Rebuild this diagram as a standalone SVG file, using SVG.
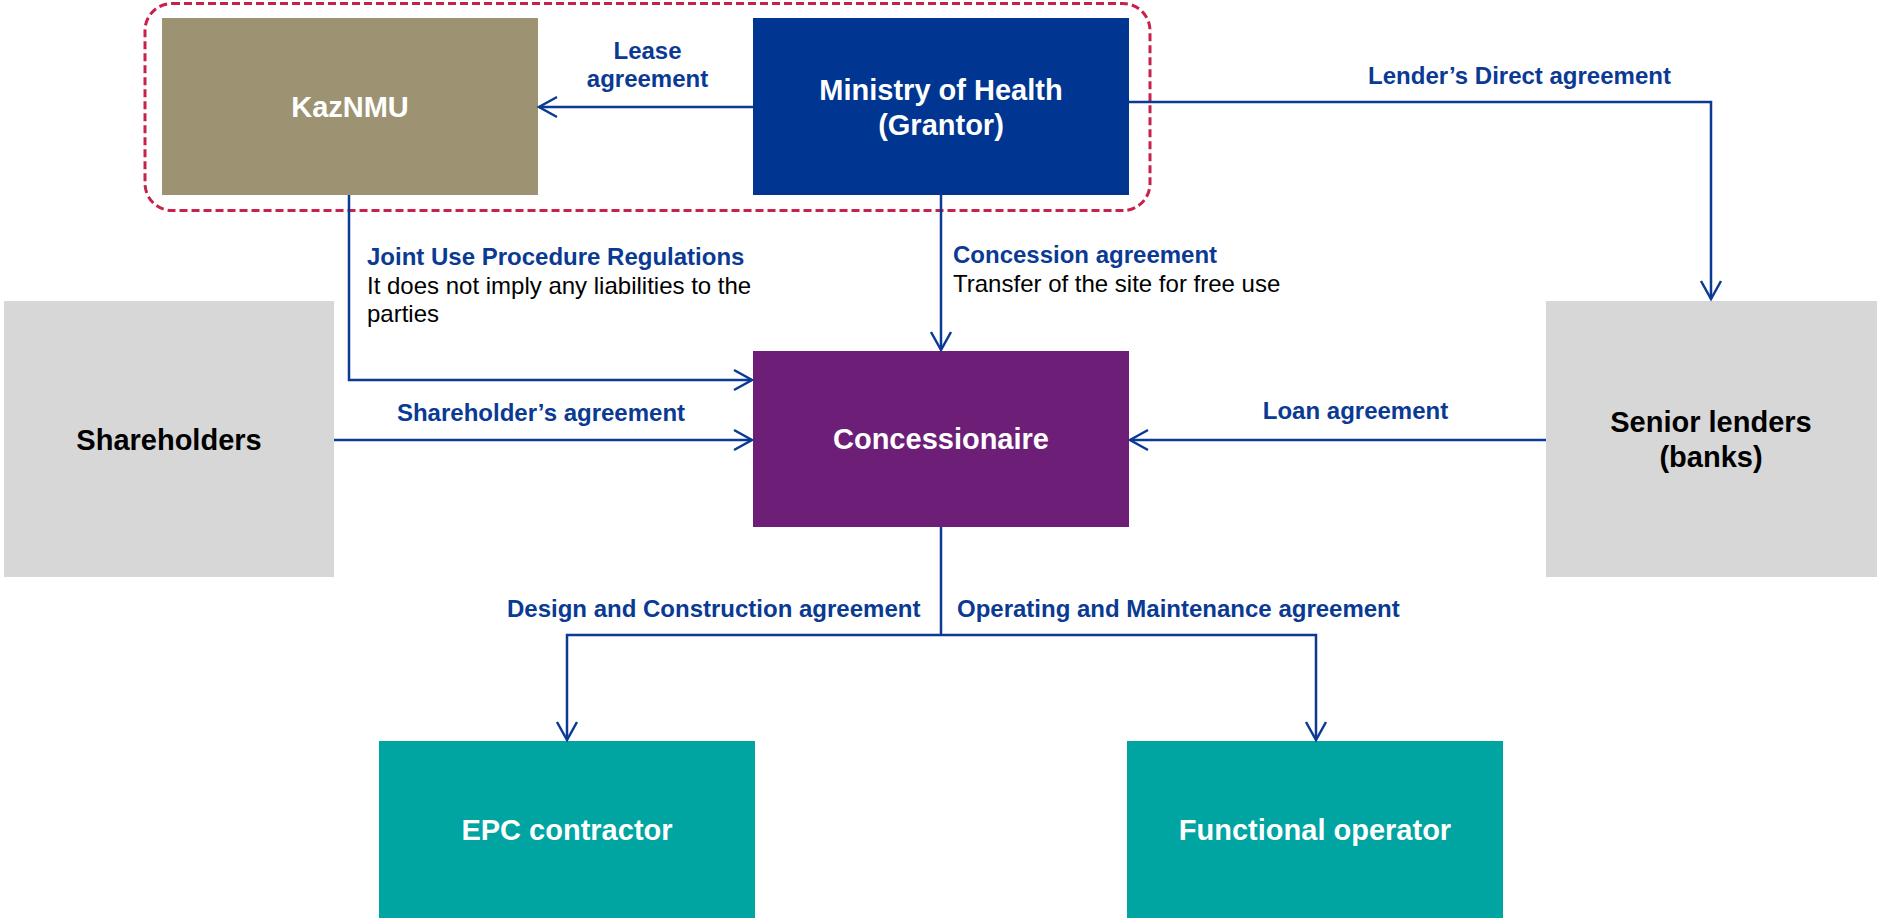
<svg xmlns="http://www.w3.org/2000/svg" width="1877" height="923" viewBox="0 0 1877 923">
  <style>
    text { font-family: "Liberation Sans", Arial, sans-serif; }
    .node-label { font-size: 29px; font-weight: bold; text-anchor: middle; }
    .on-dark { fill: #FFFFFF; }
    .on-light { fill: #000000; }
    .edge-title { font-size: 24px; font-weight: bold; fill: #0A3A93; }
    .edge-note { font-size: 24px; fill: #000000; }
    .mid { text-anchor: middle; }
    .wire { fill: none; stroke: #0A3A93; stroke-width: 2.5; marker-end: url(#arrow); }
    .wire-plain { fill: none; stroke: #0A3A93; stroke-width: 2.5; }
  </style>
  <defs>
    <marker id="arrow" viewBox="-21 -12 24 24" refX="0" refY="0" markerWidth="24" markerHeight="24" markerUnits="userSpaceOnUse" orient="auto">
      <path d="M-18,-10 L0,0 L-18,10" fill="none" stroke="#0A3A93" stroke-width="2.5"/>
    </marker>
  </defs>

  <rect width="1877" height="923" fill="#FFFFFF"/>

  <!-- public-side grouping -->
  <rect id="public-side" x="145" y="3.5" width="1005" height="207" rx="27" ry="27" fill="none" stroke="#C8224C" stroke-width="3" stroke-dasharray="8 4"/>

  <g id="kaznmu">
    <rect x="162" y="18" width="376" height="177" fill="#9D9373"/>
    <text class="node-label on-dark" x="350" y="117">KazNMU</text>
  </g>

  <g id="ministry">
    <rect x="753" y="18" width="376" height="177" fill="#003591"/>
    <text class="node-label on-dark" x="941" y="99.5">Ministry of Health</text>
    <text class="node-label on-dark" x="941" y="134.5">(Grantor)</text>
  </g>

  <g id="shareholders">
    <rect x="4" y="301" width="330" height="276" fill="#D7D7D7"/>
    <text class="node-label on-light" x="169" y="449.5">Shareholders</text>
  </g>

  <g id="concessionaire">
    <rect x="753" y="351" width="376" height="176" fill="#6D1F78"/>
    <text class="node-label on-dark" x="941" y="449">Concessionaire</text>
  </g>

  <g id="senior-lenders">
    <rect x="1546" y="301" width="331" height="276" fill="#D7D7D7"/>
    <text class="node-label on-light" x="1711" y="432">Senior lenders</text>
    <text class="node-label on-light" x="1711" y="467">(banks)</text>
  </g>

  <g id="epc-contractor">
    <rect x="379" y="741" width="376" height="177" fill="#00A4A1"/>
    <text class="node-label on-dark" x="567" y="840">EPC contractor</text>
  </g>

  <g id="functional-operator">
    <rect x="1127" y="741" width="376" height="177" fill="#00A4A1"/>
    <text class="node-label on-dark" x="1315" y="840">Functional operator</text>
  </g>

  <g id="connectors">
    <path class="wire" d="M753,107 L539,107"/>
    <path class="wire" d="M1129,102 L1711,102 L1711,299"/>
    <path class="wire" d="M941,195 L941,350"/>
    <path class="wire" d="M349,195 L349,380 L752,380"/>
    <path class="wire" d="M334,440 L752,440"/>
    <path class="wire" d="M1546,440 L1130,440"/>
    <path class="wire-plain" d="M941,527 L941,635"/>
    <path class="wire" d="M941,635 L567,635 L567,740"/>
    <path class="wire" d="M941,635 L1316,635 L1316,740"/>
  </g>

  <g id="connector-labels">
    <text class="edge-title mid" x="647.5" y="59">Lease</text>
    <text class="edge-title mid" x="647.5" y="87">agreement</text>

    <text class="edge-title mid" x="1519.5" y="84">Lender’s Direct agreement</text>

    <text class="edge-title" x="367" y="265">Joint Use Procedure Regulations</text>
    <text class="edge-note" x="367" y="294">It does not imply any liabilities to the</text>
    <text class="edge-note" x="367" y="322">parties</text>

    <text class="edge-title" x="953" y="263">Concession agreement</text>
    <text class="edge-note" x="953" y="292">Transfer of the site for free use</text>

    <text class="edge-title mid" x="541" y="421">Shareholder’s agreement</text>
    <text class="edge-title mid" x="1355.5" y="419">Loan agreement</text>

    <text class="edge-title" x="507" y="617">Design and Construction agreement</text>
    <text class="edge-title" x="957" y="617">Operating and Maintenance agreement</text>
  </g>
</svg>
